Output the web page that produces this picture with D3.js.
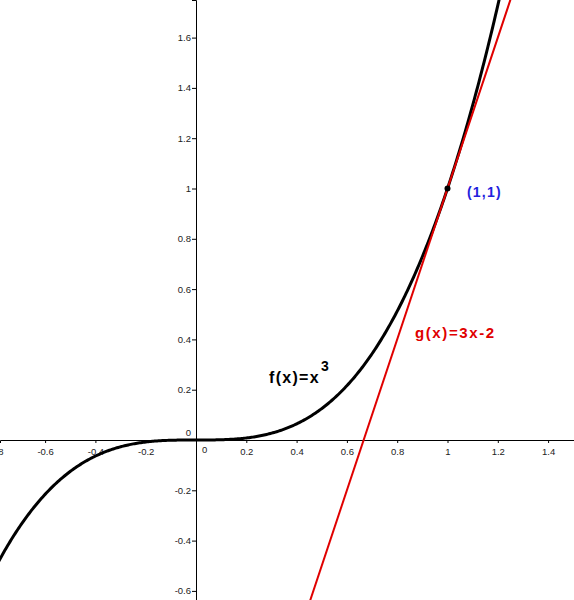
<!DOCTYPE html>
<html><head><meta charset="utf-8">
<script src="https://cdn.jsdelivr.net/npm/d3@7"></script>
<style>
html,body{margin:0;padding:0;background:#fff;}
svg{display:block;}
text{font-family:"Liberation Sans",Arial,sans-serif;}
</style></head>
<body>
<script>
// Data
const xTicks = [-0.8, -0.6, -0.4, -0.2, 0, 0.2, 0.4, 0.6, 0.8, 1, 1.2, 1.4];
const yTicks = [-0.6, -0.4, -0.2, 0, 0.2, 0.4, 0.6, 0.8, 1, 1.2, 1.4, 1.6];
const cubicCoeffs = [0, 0, 0, 1];      // f(x) = x^3
const lineCoeffs = [-2, 3];            // g(x) = 3x - 2
const tangentPoint = [1, 1];
const labels = {f: "f(x)=x", fExp: "3", g: "g(x)=3x-2", p: "(1,1)"};

const W = 574, H = 600;
const x0px = 196, y0px = 440, unit = 251.5;
const xDomain = [-x0px / unit, (W - x0px) / unit];
const yDomain = [-(H - y0px) / unit, y0px / unit];

const x = d3.scaleLinear().domain(xDomain).range([0, W]);
const y = d3.scaleLinear().domain(yDomain).range([H, 0]);

const svg = d3.select("body").append("svg").attr("width", W).attr("height", H);

const poly = (c, t) => c.reduce((s, a, i) => s + a * Math.pow(t, i), 0);
const fmt = d => String(+d.toFixed(1));

// Axes
const xAxis = d3.axisBottom(x).tickValues(xTicks.filter(d => d !== 0)).tickSize(3).tickFormat(fmt);
const gx = svg.append("g").attr("transform", `translate(0,${y(0)})`).call(xAxis);
gx.select(".domain").attr("stroke", "#000");
gx.selectAll(".tick line").attr("stroke", "#000");
gx.selectAll(".tick text").attr("font-size", 9.5).attr("fill", "#222").attr("y", 6).attr("dy", "0.9em")
  .attr("font-family", "Liberation Sans, Arial, sans-serif");

const yAxis = d3.axisLeft(y).tickValues(yTicks.filter(d => d !== 0)).tickSize(4).tickFormat(fmt);
const gy = svg.append("g").attr("transform", `translate(${x(0)},0)`).call(yAxis);
gy.select(".domain").attr("stroke", "#000");
gy.selectAll(".tick line").attr("stroke", "#000");
gy.selectAll(".tick text").attr("font-size", 9.5).attr("fill", "#222").attr("x", -5)
  .attr("font-family", "Liberation Sans, Arial, sans-serif");

// zero labels
svg.append("text").attr("x", x(0) - 5).attr("y", y(0) - 4).attr("text-anchor", "end")
  .attr("font-size", 9.5).attr("fill", "#222").text("0");
svg.append("text").attr("x", x(0) + 6).attr("y", y(0) + 13).attr("text-anchor", "start")
  .attr("font-size", 9.5).attr("fill", "#222").text("0");

// Curve f
const xs = d3.range(xDomain[0] - 0.05, xDomain[1] + 0.05, 0.005);
const line = d3.line().x(d => x(d[0])).y(d => y(d[1]));
svg.append("path").datum(xs.map(t => [t, poly(cubicCoeffs, t)]))
  .attr("d", line).attr("fill", "none").attr("stroke", "#000").attr("stroke-width", 3)
  .attr("stroke-linejoin", "round");

// Line g
svg.append("path").datum(xDomain.map(t => [t, poly(lineCoeffs, t)]))
  .attr("d", line).attr("fill", "none").attr("stroke", "#e00000").attr("stroke-width", 2);

// Point
svg.append("circle").attr("cx", x(tangentPoint[0])).attr("cy", y(tangentPoint[1]))
  .attr("r", 3).attr("fill", "#000");

// Labels
const fl = svg.append("text").attr("x", 269).attr("y", 383).attr("font-size", 16)
  .attr("font-weight", "bold").attr("fill", "#000").attr("letter-spacing", 1.3);
fl.append("tspan").text(labels.f);
fl.append("tspan").attr("font-size", 14).attr("dx", 1).attr("dy", -12).text(labels.fExp);

svg.append("text").attr("x", 415).attr("y", 338).attr("font-size", 15)
  .attr("font-weight", "bold").attr("fill", "#e00000").attr("letter-spacing", 1.6).text(labels.g);

svg.append("text").attr("x", 467).attr("y", 197).attr("font-size", 14)
  .attr("font-weight", "bold").attr("fill", "#2222dd").attr("letter-spacing", 1.2).text(labels.p);
</script>
</body></html>
